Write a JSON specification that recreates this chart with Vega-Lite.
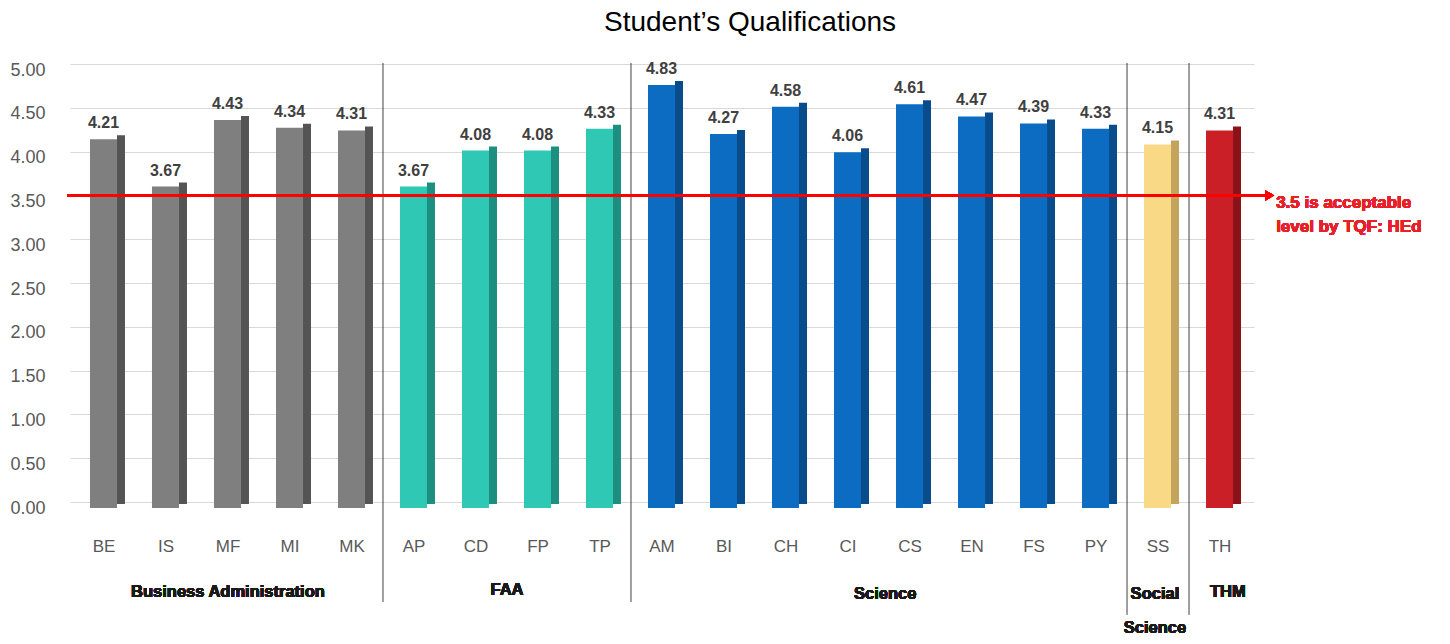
{
  "$schema": "https://vega.github.io/schema/vega-lite/v6.json",
  "width": 1184,
  "height": 438,
  "autosize": {"type": "none"},
  "padding": {"left": 70, "top": 70, "right": 196, "bottom": 136},
  "config": {"view": {"stroke": null}, "font": "Liberation Sans"},
  "title": {
    "text": "Student’s Qualifications",
    "fontSize": 28,
    "fontWeight": "normal",
    "color": "#000000",
    "font": "Liberation Sans",
    "anchor": "middle",
    "frame": "group",
    "dx": 88,
    "offset": -4,
    "baseline": "bottom"
  },
  "data": {
    "values": [
      {"code": "BE", "value": 4.21, "group": "Business Administration"},
      {"code": "IS", "value": 3.67, "group": "Business Administration"},
      {"code": "MF", "value": 4.43, "group": "Business Administration"},
      {"code": "MI", "value": 4.34, "group": "Business Administration"},
      {"code": "MK", "value": 4.31, "group": "Business Administration"},
      {"code": "AP", "value": 3.67, "group": "FAA"},
      {"code": "CD", "value": 4.08, "group": "FAA"},
      {"code": "FP", "value": 4.08, "group": "FAA"},
      {"code": "TP", "value": 4.33, "group": "FAA"},
      {"code": "AM", "value": 4.83, "group": "Science"},
      {"code": "BI", "value": 4.27, "group": "Science"},
      {"code": "CH", "value": 4.58, "group": "Science"},
      {"code": "CI", "value": 4.06, "group": "Science"},
      {"code": "CS", "value": 4.61, "group": "Science"},
      {"code": "EN", "value": 4.47, "group": "Science"},
      {"code": "FS", "value": 4.39, "group": "Science"},
      {"code": "PY", "value": 4.33, "group": "Science"},
      {"code": "SS", "value": 4.15, "group": "Social Science"},
      {"code": "TH", "value": 4.31, "group": "THM"}
    ]
  },
  "layer": [
    {
      "mark": {"type": "bar", "width": 8, "xOffset": 17, "yOffset": -4, "y2Offset": -4},
      "encoding": {
        "x": {
          "field": "code",
          "type": "nominal",
          "sort": null,
          "scale": {
            "domain": ["BE","IS","MF","MI","MK","AP","CD","FP","TP","AM","BI","CH","CI","CS","EN","FS","PY","SS","TH"],
            "paddingInner": 0.5,
            "paddingOuter": 0.298
          },
          "axis": {
            "title": null,
            "labelAngle": 0,
            "labelFontSize": 17,
            "labelColor": "#595959",
            "labelPadding": 30,
            "ticks": false,
            "tickSize": 0,
            "domain": false,
            "grid": false
          }
        },
        "y": {
          "field": "value",
          "type": "quantitative",
          "scale": {"domain": [0, 5], "nice": false},
          "axis": {
            "title": null,
            "values": [0, 0.5, 1, 1.5, 2, 2.5, 3, 3.5, 4, 4.5, 5],
            "format": ".2f",
            "labelFontSize": 18,
            "labelColor": "#595959",
            "labelPadding": 25,
            "ticks": false,
            "tickSize": 0,
            "domain": false,
            "grid": true,
            "gridColor": "#d9d9d9",
            "gridWidth": 1,
            "tickOffset": -6,
            "labelOffset": 6
          }
        },
        "fill": {
          "field": "group",
          "type": "nominal",
          "scale": {
            "domain": ["Business Administration","FAA","Science","Social Science","THM"],
            "range": ["#545454","#1c8f80","#084c8c","#c2a45c","#8a1218"]
          },
          "legend": null
        }
      }
    },
    {
      "mark": {"type": "bar", "width": 27, "xOffset": -0.5},
      "encoding": {
        "x": {"field": "code", "type": "nominal", "sort": null},
        "y": {"field": "value", "type": "quantitative"},
        "color": {
          "field": "group",
          "type": "nominal",
          "scale": {
            "domain": ["Business Administration","FAA","Science","Social Science","THM"],
            "range": ["#7f7f7f","#2ec8b4","#0b6cc2","#f9d886","#cb1f27"]
          },
          "legend": null
        }
      }
    },
    {
      "mark": {"type": "text", "fontSize": 16, "fontWeight": "bold", "color": "#404040", "baseline": "alphabetic", "dy": -11, "xOffset": -0.5},
      "encoding": {
        "x": {"field": "code", "type": "nominal", "sort": null},
        "y": {"field": "value", "type": "quantitative"},
        "text": {"field": "value", "type": "quantitative", "format": ".2f"}
      }
    },
    {
      "data": {"values": [{"code": "AP"}, {"code": "AM"}]},
      "mark": {"type": "rule", "color": "#404040", "strokeWidth": 1},
      "encoding": {
        "x": {"field": "code", "type": "nominal", "bandPosition": -0.5},
        "y": {"datum": 5.08},
        "y2": {"datum": -1.073}
      }
    },
    {
      "data": {"values": [{"code": "SS"}, {"code": "TH"}]},
      "mark": {"type": "rule", "color": "#404040", "strokeWidth": 1},
      "encoding": {
        "x": {"field": "code", "type": "nominal", "bandPosition": -0.5},
        "y": {"datum": 5.08},
        "y2": {"datum": -1.22}
      }
    },
    {
      "mark": {"type": "rule", "color": "#ff0000", "strokeWidth": 2, "yOffset": -6},
      "encoding": {
        "x": {"datum": "BE", "bandPosition": -0.69},
        "x2": {"datum": "TH", "bandPosition": 1.98},
        "y": {"datum": 3.5}
      }
    },
    {
      "mark": {"type": "point", "shape": "triangle-right", "filled": true, "color": "#ff0000", "size": 110, "opacity": 1, "yOffset": -6},
      "encoding": {
        "x": {"datum": "TH", "bandPosition": 2.1},
        "y": {"datum": 3.5}
      }
    },
    {
      "mark": {"type": "text", "text": ["3.5 is acceptable", "level by TQF: HEd"], "lineHeight": 24, "fontSize": 17, "fontWeight": "bold", "color": "#e8202a", "align": "left", "baseline": "middle", "dy": 2},
      "encoding": {
        "x": {"datum": "TH", "bandPosition": 2.31},
        "y": {"datum": 3.5}
      }
    },
    {
      "mark": {"type": "text", "text": "Business Administration", "fontSize": 16.5, "fontWeight": "bold", "color": "#1a1a1a", "baseline": "middle"},
      "encoding": {
        "x": {"datum": "MF", "bandPosition": 0.5},
        "y": {"datum": -0.955}
      }
    },
    {
      "mark": {"type": "text", "text": "FAA", "fontSize": 16.5, "fontWeight": "bold", "color": "#1a1a1a", "baseline": "middle"},
      "encoding": {
        "x": {"datum": "FP", "bandPosition": -0.5},
        "y": {"datum": -0.94}
      }
    },
    {
      "mark": {"type": "text", "text": "Science", "fontSize": 16.5, "fontWeight": "bold", "color": "#1a1a1a", "baseline": "middle"},
      "encoding": {
        "x": {"datum": "CS", "bandPosition": -0.3},
        "y": {"datum": -0.98}
      }
    },
    {
      "mark": {"type": "text", "text": ["Social", "Science"], "lineHeight": 34, "fontSize": 16.5, "fontWeight": "bold", "color": "#1a1a1a", "baseline": "middle"},
      "encoding": {
        "x": {"datum": "SS", "bandPosition": 0.4},
        "y": {"datum": -0.982}
      }
    },
    {
      "mark": {"type": "text", "text": "THM", "fontSize": 16.5, "fontWeight": "bold", "color": "#1a1a1a", "baseline": "middle"},
      "encoding": {
        "x": {"datum": "TH", "bandPosition": 0.75},
        "y": {"datum": -0.955}
      }
    }
  ]
}
